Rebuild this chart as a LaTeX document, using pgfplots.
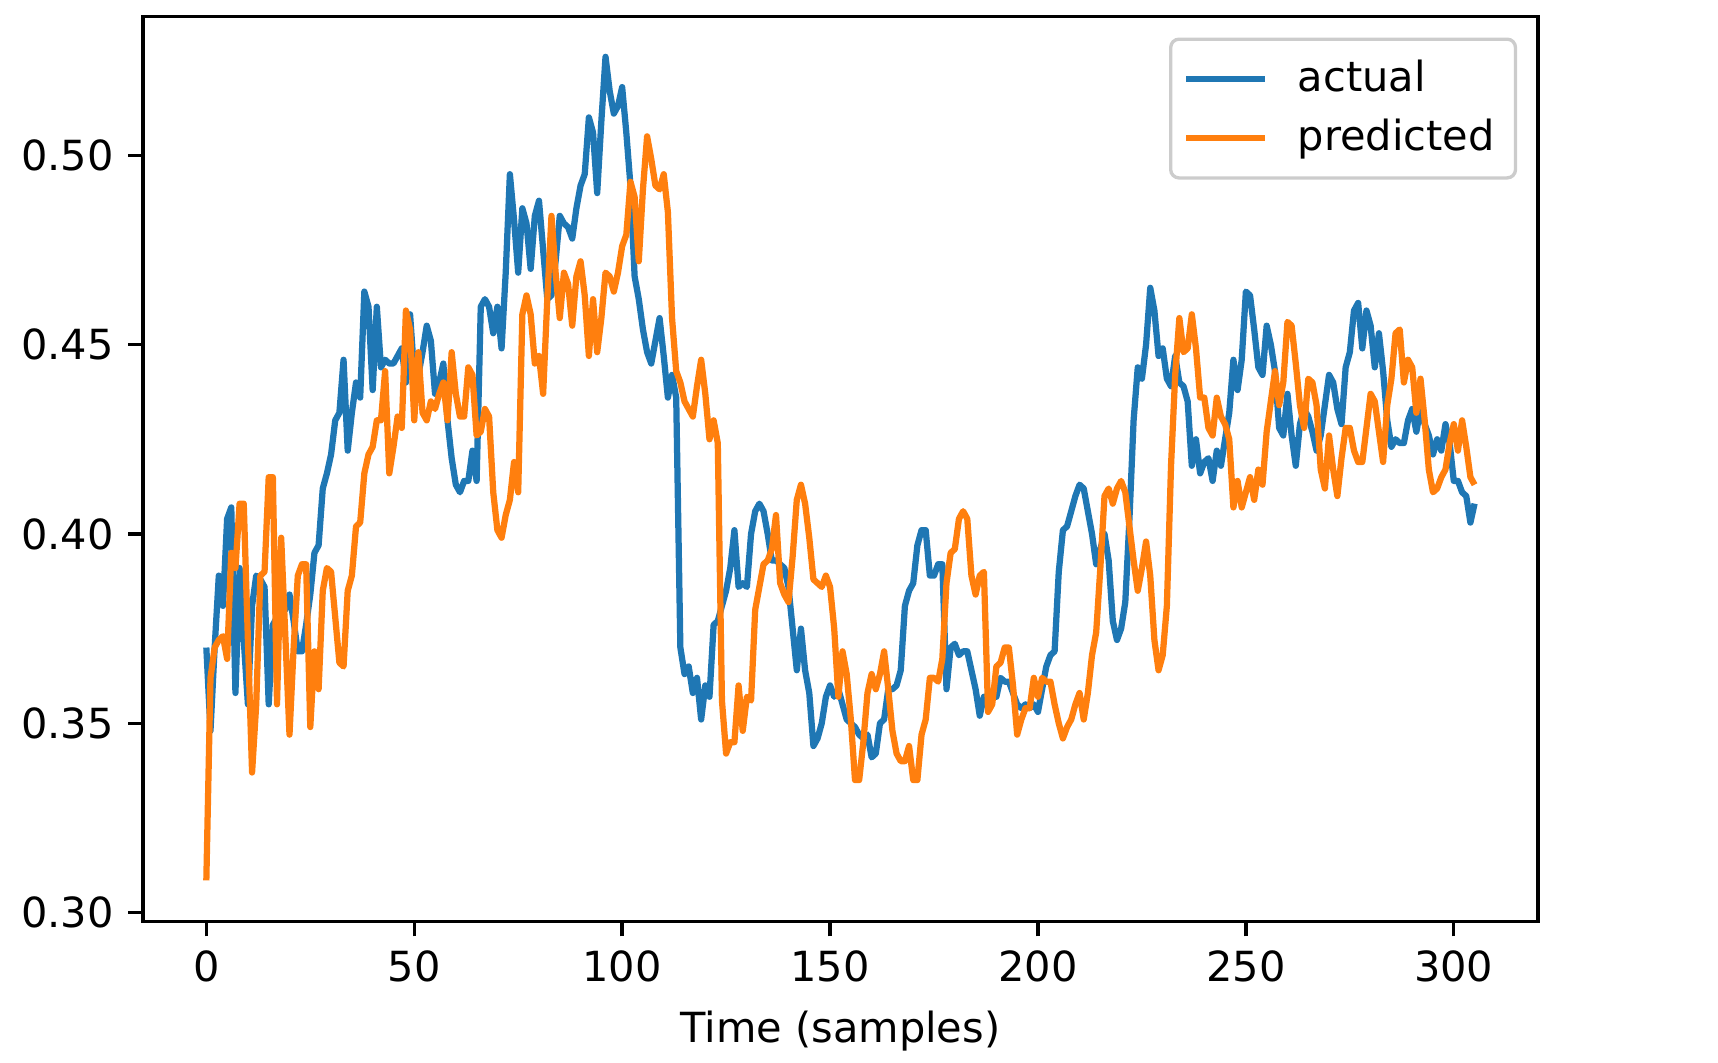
\documentclass[border=0pt]{standalone}
\usepackage{fontspec}
\setmainfont{DejaVu Sans}
\usepackage{pgfplots}
\usepackage{pgfplotstable}
\pgfplotsset{compat=1.18}
\definecolor{c0}{HTML}{1F77B4}
\definecolor{c1}{HTML}{FF7F0E}
\pgfplotstableread[row sep=\\,header=false]{
0.370\\0.348\\0.370\\0.389\\0.381\\0.404\\0.407\\0.358\\0.391\\0.372\\
0.355\\0.381\\0.389\\0.388\\0.386\\0.355\\0.376\\0.378\\0.384\\0.380\\
0.384\\0.377\\0.369\\0.369\\0.376\\0.384\\0.395\\0.397\\0.412\\0.416\\
0.421\\0.430\\0.432\\0.446\\0.422\\0.432\\0.440\\0.436\\0.464\\0.460\\
0.438\\0.460\\0.444\\0.446\\0.445\\0.445\\0.447\\0.449\\0.440\\0.458\\
0.442\\0.442\\0.448\\0.455\\0.451\\0.437\\0.440\\0.445\\0.430\\0.420\\
0.413\\0.411\\0.414\\0.414\\0.422\\0.414\\0.460\\0.462\\0.460\\0.453\\
0.460\\0.449\\0.469\\0.495\\0.483\\0.469\\0.486\\0.482\\0.470\\0.484\\
0.488\\0.475\\0.462\\0.463\\0.472\\0.484\\0.482\\0.481\\0.478\\0.486\\
0.492\\0.495\\0.510\\0.506\\0.490\\0.509\\0.526\\0.517\\0.511\\0.513\\
0.518\\0.506\\0.492\\0.468\\0.462\\0.454\\0.448\\0.445\\0.451\\0.457\\
0.447\\0.436\\0.442\\0.436\\0.370\\0.363\\0.365\\0.358\\0.362\\0.351\\
0.360\\0.357\\0.376\\0.377\\0.381\\0.385\\0.391\\0.401\\0.386\\0.387\\
0.386\\0.400\\0.406\\0.408\\0.406\\0.400\\0.393\\0.393\\0.392\\0.391\\
0.386\\0.375\\0.364\\0.375\\0.364\\0.358\\0.344\\0.346\\0.350\\0.357\\
0.360\\0.357\\0.359\\0.355\\0.351\\0.350\\0.349\\0.347\\0.346\\0.347\\
0.341\\0.342\\0.350\\0.351\\0.359\\0.359\\0.360\\0.364\\0.381\\0.385\\
0.387\\0.397\\0.401\\0.401\\0.389\\0.389\\0.392\\0.392\\0.359\\0.370\\
0.371\\0.368\\0.369\\0.369\\0.364\\0.359\\0.352\\0.357\\0.357\\0.357\\
0.357\\0.362\\0.361\\0.361\\0.358\\0.355\\0.354\\0.355\\0.354\\0.355\\
0.353\\0.359\\0.365\\0.368\\0.369\\0.390\\0.401\\0.402\\0.406\\0.410\\
0.413\\0.412\\0.406\\0.400\\0.392\\0.396\\0.400\\0.393\\0.377\\0.372\\
0.375\\0.382\\0.404\\0.430\\0.444\\0.441\\0.450\\0.465\\0.459\\0.447\\
0.449\\0.441\\0.439\\0.447\\0.440\\0.439\\0.435\\0.418\\0.425\\0.416\\
0.419\\0.420\\0.414\\0.422\\0.418\\0.425\\0.432\\0.446\\0.438\\0.446\\
0.464\\0.463\\0.454\\0.444\\0.442\\0.455\\0.450\\0.443\\0.428\\0.426\\
0.437\\0.426\\0.418\\0.429\\0.433\\0.431\\0.427\\0.422\\0.426\\0.434\\
0.442\\0.440\\0.433\\0.429\\0.444\\0.448\\0.459\\0.461\\0.449\\0.459\\
0.455\\0.444\\0.453\\0.443\\0.430\\0.423\\0.425\\0.424\\0.424\\0.430\\
0.433\\0.427\\0.433\\0.429\\0.426\\0.421\\0.425\\0.422\\0.429\\0.424\\
0.414\\0.414\\0.411\\0.410\\0.403\\0.408\\
}\actual
\pgfplotstableread[row sep=\\,header=false]{
0.3085\\0.362\\0.370\\0.372\\0.373\\0.367\\0.395\\0.391\\0.408\\0.408\\
0.372\\0.337\\0.355\\0.389\\0.390\\0.415\\0.415\\0.355\\0.399\\0.373\\
0.347\\0.370\\0.389\\0.392\\0.392\\0.349\\0.369\\0.359\\0.385\\0.391\\
0.390\\0.378\\0.366\\0.365\\0.385\\0.389\\0.402\\0.403\\0.416\\0.421\\
0.423\\0.430\\0.430\\0.443\\0.416\\0.423\\0.431\\0.428\\0.459\\0.454\\
0.430\\0.448\\0.432\\0.430\\0.435\\0.433\\0.437\\0.440\\0.430\\0.448\\
0.437\\0.431\\0.431\\0.444\\0.442\\0.426\\0.427\\0.433\\0.431\\0.411\\
0.401\\0.399\\0.405\\0.409\\0.419\\0.411\\0.458\\0.463\\0.458\\0.445\\
0.447\\0.437\\0.462\\0.484\\0.469\\0.457\\0.469\\0.466\\0.455\\0.468\\
0.472\\0.463\\0.447\\0.462\\0.448\\0.457\\0.469\\0.468\\0.464\\0.469\\
0.476\\0.479\\0.493\\0.489\\0.472\\0.491\\0.505\\0.499\\0.492\\0.491\\
0.495\\0.485\\0.457\\0.443\\0.440\\0.435\\0.433\\0.431\\0.439\\0.446\\
0.437\\0.425\\0.430\\0.424\\0.356\\0.342\\0.345\\0.345\\0.360\\0.348\\
0.357\\0.356\\0.380\\0.386\\0.392\\0.393\\0.396\\0.405\\0.387\\0.384\\
0.382\\0.394\\0.409\\0.413\\0.408\\0.399\\0.388\\0.387\\0.386\\0.389\\
0.386\\0.375\\0.357\\0.369\\0.363\\0.351\\0.335\\0.335\\0.345\\0.358\\
0.363\\0.359\\0.363\\0.369\\0.359\\0.348\\0.342\\0.340\\0.340\\0.344\\
0.335\\0.335\\0.347\\0.351\\0.362\\0.362\\0.361\\0.367\\0.387\\0.395\\
0.396\\0.404\\0.406\\0.404\\0.389\\0.384\\0.389\\0.390\\0.353\\0.355\\
0.365\\0.366\\0.370\\0.370\\0.360\\0.347\\0.351\\0.354\\0.354\\0.362\\
0.357\\0.362\\0.361\\0.361\\0.355\\0.350\\0.346\\0.349\\0.351\\0.355\\
0.358\\0.351\\0.358\\0.368\\0.374\\0.391\\0.410\\0.412\\0.408\\0.412\\
0.414\\0.411\\0.402\\0.393\\0.385\\0.391\\0.398\\0.389\\0.372\\0.364\\
0.368\\0.381\\0.418\\0.442\\0.457\\0.448\\0.449\\0.458\\0.449\\0.436\\
0.436\\0.428\\0.426\\0.436\\0.431\\0.429\\0.425\\0.407\\0.414\\0.407\\
0.411\\0.415\\0.409\\0.417\\0.413\\0.427\\0.435\\0.443\\0.434\\0.440\\
0.456\\0.455\\0.445\\0.434\\0.428\\0.441\\0.440\\0.434\\0.417\\0.412\\
0.426\\0.417\\0.410\\0.420\\0.428\\0.428\\0.422\\0.419\\0.419\\0.428\\
0.437\\0.435\\0.427\\0.419\\0.434\\0.441\\0.453\\0.454\\0.440\\0.446\\
0.444\\0.432\\0.441\\0.430\\0.417\\0.411\\0.412\\0.415\\0.417\\0.424\\
0.429\\0.422\\0.430\\0.423\\0.415\\0.413\\
}\predicted
\begin{document}
\begin{tikzpicture}
\path[use as bounding box] (-34.3bp,-33.7bp) rectangle (378.0bp,221.2bp);
\begin{axis}[
  at={(0,0)}, anchor=south west,
  scale only axis, width=334.8bp, height=217.2bp,
  xmin=-15.25, xmax=320.25, ymin=0.2976, ymax=0.5366,
  xtick={0,50,100,150,200,250,300},
  ytick={0.30,0.35,0.40,0.45,0.50},
  yticklabel style={/pgf/number format/.cd,fixed,fixed zerofill,precision=2},
  /pgf/number format/assume math mode=true,
  tick label style={font=\fontsize{10}{12}\selectfont},
  label style={font=\fontsize{10}{12}\selectfont},
  xtick pos=bottom, ytick pos=left,
  tick align=outside, major tick length=3.5bp,
  every tick/.style={black, line width=0.8bp},
  axis line style={line width=0.8bp},
  xlabel={Time (samples)},
  legend style={at={(1,1)}, anchor=north east, xshift=-5bp, yshift=-5bp,
    draw=black!20, line width=0.8bp, rounded corners=2bp, fill=white, fill opacity=0.8, text opacity=1,
    font=\fontsize{10}{12}\selectfont, inner xsep=3bp, inner ysep=3bp, row sep=1.2bp},
  legend cell align=left,
  legend image code/.code={\draw[#1] (0bp,0bp) -- (19bp,0bp);},
]
\addplot[c0, line width=1.5bp, line join=round] table[x expr=\coordindex, y index=0] {\actual};
\addlegendentry{\hspace{5bp}actual}
\addplot[c1, line width=1.5bp, line join=round] table[x expr=\coordindex, y index=0] {\predicted};
\addlegendentry{\hspace{5bp}predicted}
\end{axis}
\end{tikzpicture}
\end{document}
